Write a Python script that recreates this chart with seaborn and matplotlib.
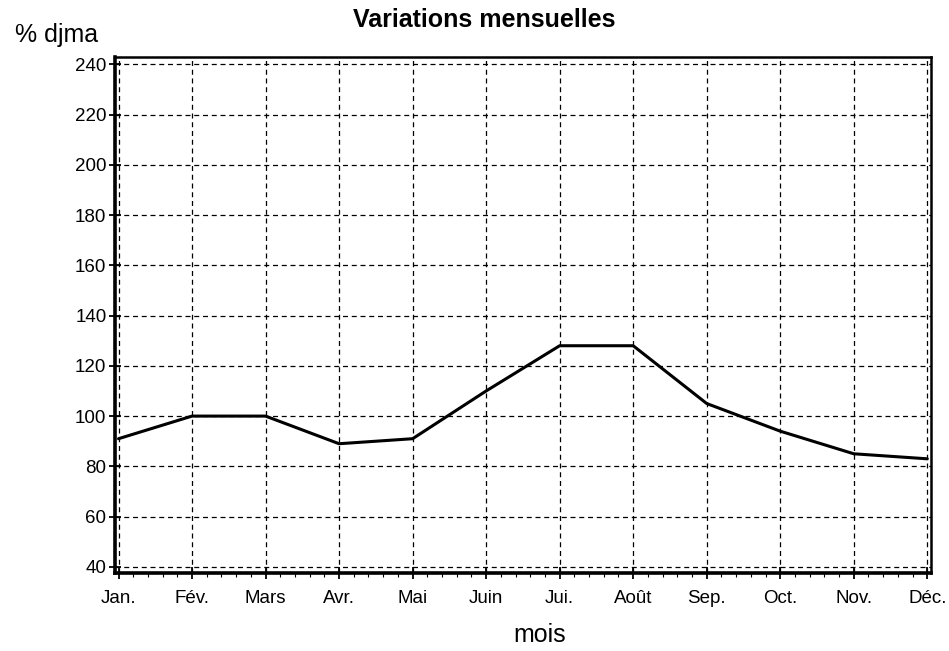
import numpy as np
import pandas as pd
import matplotlib
matplotlib.use("Agg")
import matplotlib.pyplot as plt
import seaborn as sns
from matplotlib.ticker import AutoMinorLocator

# Données
mois = ["Jan.", "Fév.", "Mars", "Avr.", "Mai", "Juin", "Jui.", "Août", "Sep.", "Oct.", "Nov.", "Déc."]
pct_djma = [91, 100, 100, 89, 91, 110, 128, 128, 105, 94, 85, 83]
yticks = [40, 60, 80, 100, 120, 140, 160, 180, 200, 220, 240]

df = pd.DataFrame({"idx": np.arange(len(mois)), "valeur": pct_djma})

sns.set_style("white", rc={"xtick.bottom": True, "ytick.left": True,
                           "text.color": "black", "xtick.color": "black",
                           "ytick.color": "black", "axes.edgecolor": "black"})
plt.rcParams["font.family"] = ["Liberation Sans", "DejaVu Sans"]

fig = plt.figure(figsize=(9.49, 6.51), dpi=100)
ax = fig.add_axes([0.121, 0.12, 0.86, 0.792])

sns.lineplot(data=df, x="idx", y="valeur", color="black", linewidth=2.2, ax=ax)

ax.set_xlim(-0.05, 11.05)
ax.set_ylim(37.6, 242.8)
ax.set_xticks(df["idx"])
ax.set_xticklabels(mois, fontsize=13.5)
ax.set_yticks(yticks)
ax.set_yticklabels([str(v) for v in yticks], fontsize=13.5)
ax.xaxis.set_minor_locator(AutoMinorLocator(5))

ax.grid(True, which="major", color="black", linestyle=(0, (4, 3)), linewidth=0.9)
ax.tick_params(axis="both", which="major", direction="inout", length=8, width=1.3,
               color="black", labelcolor="black")
ax.tick_params(axis="y", which="major", pad=2)
ax.tick_params(axis="x", which="major", pad=8)
ax.tick_params(axis="x", which="minor", bottom=True, direction="out", length=3, width=0.8, color="black")

for side in ["left", "bottom"]:
    ax.spines[side].set_linewidth(2.6)
for side in ["top", "right"]:
    ax.spines[side].set_linewidth(1.8)

ax.set_xlabel("")
ax.set_ylabel("")
fig.text(0.016, 0.946, "% djma", fontsize=18, ha="left", va="center", color="black")
fig.text(0.51, 0.969, "Variations mensuelles", fontsize=18, fontweight="bold",
         ha="center", va="center", color="black")
fig.text(0.569, 0.025, "mois", fontsize=18, ha="center", va="center", color="black")

fig.savefig("out.png", dpi=100, facecolor="white")
